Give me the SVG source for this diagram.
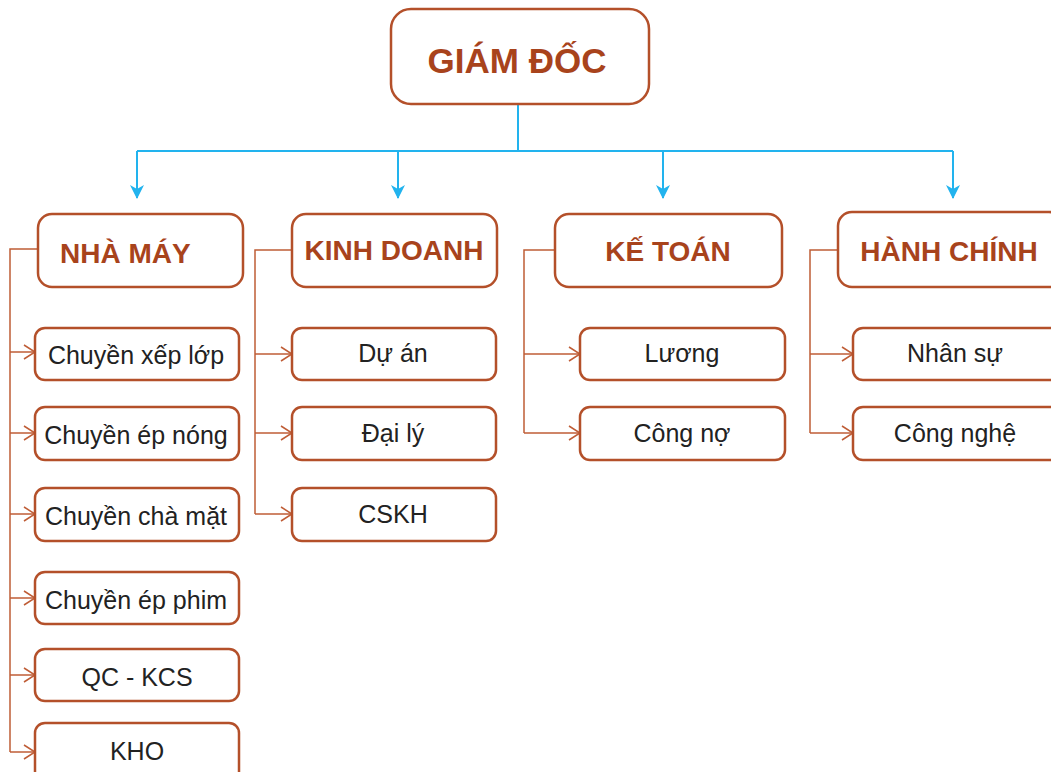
<svg xmlns="http://www.w3.org/2000/svg" width="1051" height="772" viewBox="0 0 1051 772">
<defs>
<style>
.box{fill:#fff;stroke:#B4502A;stroke-width:2.5}
.h{font-family:"Liberation Sans",Arial,sans-serif;font-weight:bold;fill:#A8431C;text-anchor:middle}
.t{font-family:"Liberation Sans",Arial,sans-serif;font-size:25px;fill:#222;text-anchor:middle}
.bl{fill:none;stroke:#22B3EE;stroke-width:2}
.br{fill:none;stroke:#BF5D36;stroke-width:1.5}
</style>
<marker id="ba" viewBox="0 0 14 14" refX="13" refY="7" markerWidth="14" markerHeight="14" markerUnits="userSpaceOnUse" orient="auto">
<path d="M0,0 L14,7 L0,14 L4,7 Z" fill="#22B3EE"/>
</marker>
<marker id="oa" viewBox="0 0 14 16" refX="12" refY="8" markerWidth="14" markerHeight="16" markerUnits="userSpaceOnUse" orient="auto">
<path d="M1,1 L12,8 L1,15" fill="none" stroke="#BF5D36" stroke-width="1.5"/>
</marker>
</defs>
<rect width="1051" height="772" fill="#fff"/>
<g id="connectors">
<path class="bl" d="M518,105 V151 M137,151 H953"/>
<path class="bl" d="M137,151 V198" marker-end="url(#ba)"/>
<path class="bl" d="M398,151 V198" marker-end="url(#ba)"/>
<path class="bl" d="M663,151 V198" marker-end="url(#ba)"/>
<path class="bl" d="M953,151 V198" marker-end="url(#ba)"/>
<path class="br" d="M38,249 H10 V752"/>
<path class="br" d="M10,352 H35" marker-end="url(#oa)"/>
<path class="br" d="M10,433 H35" marker-end="url(#oa)"/>
<path class="br" d="M10,514 H35" marker-end="url(#oa)"/>
<path class="br" d="M10,598 H35" marker-end="url(#oa)"/>
<path class="br" d="M10,675 H35" marker-end="url(#oa)"/>
<path class="br" d="M10,752 H35" marker-end="url(#oa)"/>
<path class="br" d="M292,250 H255 V514"/>
<path class="br" d="M255,354 H292" marker-end="url(#oa)"/>
<path class="br" d="M255,433 H292" marker-end="url(#oa)"/>
<path class="br" d="M255,514 H292" marker-end="url(#oa)"/>
<path class="br" d="M555,250 H524 V433"/>
<path class="br" d="M524,354 H580" marker-end="url(#oa)"/>
<path class="br" d="M524,433 H580" marker-end="url(#oa)"/>
<path class="br" d="M838,250 H810 V433"/>
<path class="br" d="M810,354 H853" marker-end="url(#oa)"/>
<path class="br" d="M810,433 H853" marker-end="url(#oa)"/>
</g>
<g id="giam-doc"><rect class="box" x="391" y="9" width="258" height="95" rx="20"/><text class="h" x="517" y="73" font-size="35">GIÁM ĐỐC</text></g>
<g id="nha-may"><rect class="box" x="38" y="214" width="205" height="73" rx="14"/><text class="h" x="60" y="263" font-size="28" style="text-anchor:start">NHÀ MÁY</text></g>
<g id="kinh-doanh"><rect class="box" x="292" y="214" width="205" height="73" rx="14"/><text class="h" x="394" y="260" font-size="28">KINH DOANH</text></g>
<g id="ke-toan"><rect class="box" x="555" y="214" width="227" height="73" rx="14"/><text class="h" x="668" y="261" font-size="28">KẾ TOÁN</text></g>
<g id="hanh-chinh"><rect class="box" x="838" y="212" width="225" height="75" rx="14"/><text class="h" x="949" y="261" font-size="28">HÀNH CHÍNH</text></g>
<g id="n1"><rect class="box" x="35" y="328" width="204" height="52" rx="10"/><text class="t" x="136" y="364">Chuyền xếp lớp</text></g>
<g id="n2"><rect class="box" x="35" y="407" width="204" height="53" rx="10"/><text class="t" x="136" y="444">Chuyền ép nóng</text></g>
<g id="n3"><rect class="box" x="35" y="488" width="204" height="53" rx="10"/><text class="t" x="136" y="525">Chuyền chà mặt</text></g>
<g id="n4"><rect class="box" x="35" y="572" width="204" height="52" rx="10"/><text class="t" x="136" y="609">Chuyền ép phim</text></g>
<g id="n5"><rect class="box" x="35" y="649" width="204" height="52" rx="10"/><text class="t" x="137" y="686">QC - KCS</text></g>
<g id="n6"><rect class="box" x="35" y="723" width="204" height="60" rx="10"/><text class="t" x="137" y="760">KHO</text></g>
<g id="k1"><rect class="box" x="292" y="328" width="204" height="52" rx="10"/><text class="t" x="393" y="362">Dự án</text></g>
<g id="k2"><rect class="box" x="292" y="407" width="204" height="53" rx="10"/><text class="t" x="393" y="442">Đại lý</text></g>
<g id="k3"><rect class="box" x="292" y="488" width="204" height="53" rx="10"/><text class="t" x="393" y="523">CSKH</text></g>
<g id="t1"><rect class="box" x="580" y="328" width="205" height="52" rx="10"/><text class="t" x="682" y="362">Lương</text></g>
<g id="t2"><rect class="box" x="580" y="407" width="205" height="53" rx="10"/><text class="t" x="682" y="442">Công nợ</text></g>
<g id="h1"><rect class="box" x="853" y="328" width="210" height="52" rx="10"/><text class="t" x="955" y="362">Nhân sự</text></g>
<g id="h2"><rect class="box" x="853" y="407" width="210" height="53" rx="10"/><text class="t" x="955" y="442">Công nghệ</text></g>
</svg>
